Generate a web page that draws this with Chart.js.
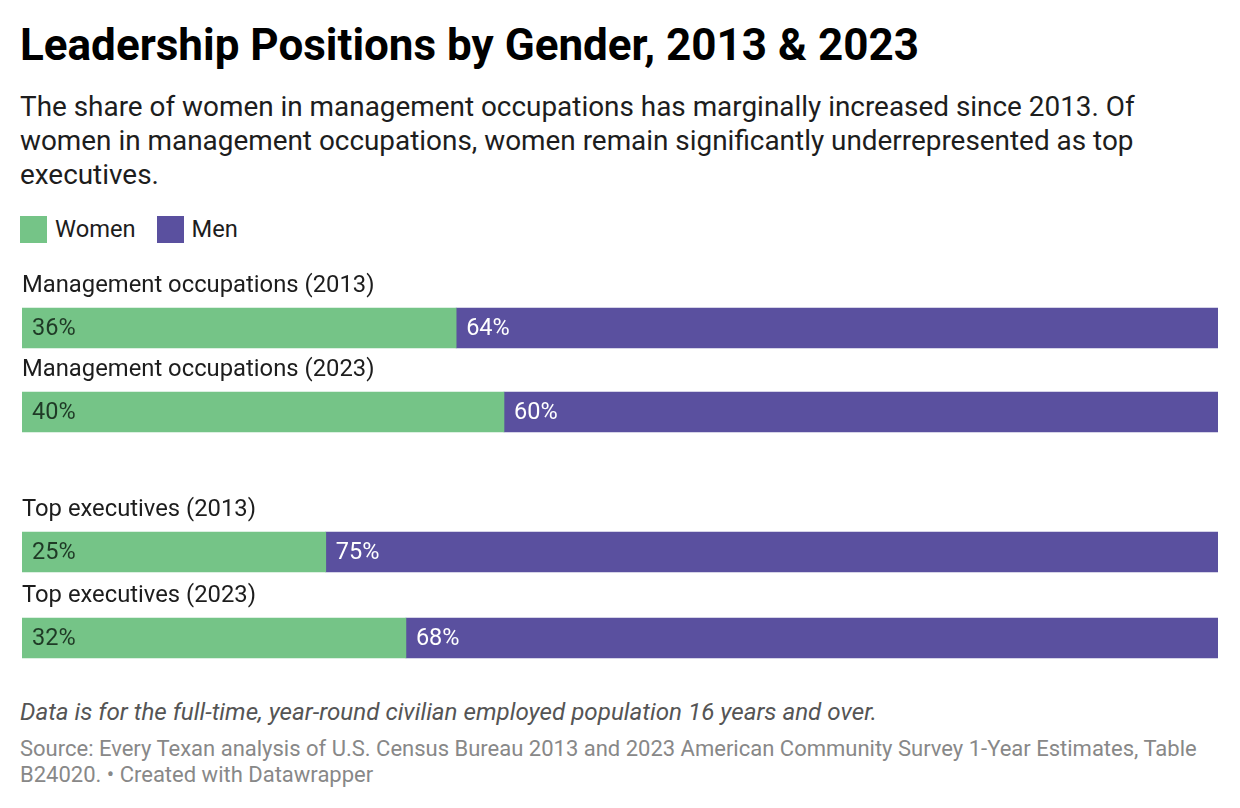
<!DOCTYPE html>
<html>

<head>
    <title>Leadership Positions by Gender</title>
    <script src="https://cdn.jsdelivr.net/npm/chart.js@4.4.1/dist/chart.umd.min.js"></script>
    <style>
        body { margin: 0; background: #fff; font-family: Roboto, sans-serif; }
        #page { position: relative; width: 1240px; height: 808px; overflow: hidden; }
        .title { position: absolute; left: 20px; top: 19px; font-size: 44px; line-height: 52px; font-weight: 700; color: #000; white-space: nowrap; }
        .subtitle { position: absolute; left: 20px; top: 90px; font-size: 27.9px; line-height: 34px; color: #1d1d1d; white-space: nowrap; }
        .legend { position: absolute; left: 20px; top: 216px; display: flex; font-size: 23.7px; line-height: 27px; color: #1d1d1d; }
        .legend span.item { display: flex; align-items: center; margin-right: 21px; }
        .legend span.sw { width: 27px; height: 27px; margin-right: 8px; display: inline-block; }
        .chart-box { position: absolute; left: 0; width: 1240px; }
        .notes { position: absolute; left: 20px; top: 697px; font-size: 24.2px; line-height: 30px; font-style: italic; color: #555; white-space: nowrap; }
        .source { position: absolute; left: 20px; top: 736px; font-size: 22px; line-height: 26px; color: #888; white-space: nowrap; }
    </style>
</head>

<body>
    <div id="page">
        <div class="title">Leadership Positions by Gender, 2013 &amp; 2023</div>
        <div class="subtitle">The share of women in management occupations has marginally increased since 2013. Of<br>women in management occupations, women remain significantly underrepresented as top<br>executives.</div>
        <div class="legend" id="legend"></div>
        <div class="chart-box" style="top:250px;height:204px"><canvas id="chartMgmt"></canvas></div>
        <div class="chart-box" style="top:476px;height:205px"><canvas id="chartExec"></canvas></div>
        <div class="notes">Data is for the full-time, year-round civilian employed population 16 years and over.</div>
        <div class="source">Source: Every Texan analysis of U.S. Census Bureau 2013 and 2023 American Community Survey 1-Year Estimates, Table<br>B24020. • Created with Datawrapper</div>
    </div>
    <script>
        const categories = ['Management occupations (2013)', 'Management occupations (2023)', 'Top executives (2013)', 'Top executives (2023)'];
        const women = [36.3, 40.3, 25.4, 32.1];
        const men = [63.7, 59.7, 74.6, 67.9];
        const seriesNames = ['Women', 'Men'];
        const seriesColors = ['#75c487', '#5a509f'];
        const labelColors = ['#1f3a26', '#ffffff'];

        // legend
        const legend = document.getElementById('legend');
        seriesNames.forEach((name, i) => {
            legend.innerHTML += `<span class="item"><span class="sw" style="background:${seriesColors[i]}"></span>${name}</span>`;
        });

        // row labels above the bars and value labels inside
        const barText = {
            id: 'barText',
            afterDatasetsDraw(chart) {
                const ctx = chart.ctx;
                ctx.save();
                ctx.font = '23.8px Roboto, sans-serif';
                ctx.textBaseline = 'middle';
                const meta0 = chart.getDatasetMeta(0);
                meta0.data.forEach((bar, i) => {
                    ctx.fillStyle = '#1d1d1d';
                    ctx.fillText(chart.data.labels[i], chart.chartArea.left, bar.y - 42);
                });
                ctx.font = '23.5px Roboto, sans-serif';
                chart.data.datasets.forEach((ds, d) => {
                    const meta = chart.getDatasetMeta(d);
                    meta.data.forEach((bar, i) => {
                        ctx.fillStyle = labelColors[d];
                        ctx.fillText(Math.round(ds.data[i]) + '%', bar.base + 10, bar.y + 1);
                    });
                });
                ctx.restore();
            }
        };

        function makeChart(id, from, to, padTop) {
            return new Chart(document.getElementById(id), {
                type: 'bar',
                data: {
                    labels: categories.slice(from, to),
                    datasets: [
                        { label: seriesNames[0], data: women.slice(from, to), backgroundColor: seriesColors[0] },
                        { label: seriesNames[1], data: men.slice(from, to), backgroundColor: seriesColors[1] }
                    ]
                },
                options: {
                    indexAxis: 'y',
                    responsive: true,
                    maintainAspectRatio: false,
                    animation: false,
                    layout: { padding: { left: 22, right: 22, top: padTop, bottom: 0 } },
                    datasets: { bar: { barThickness: 40, borderWidth: 0 } },
                    scales: {
                        x: { stacked: true, min: 0, max: 100, display: false },
                        y: { stacked: true, display: false }
                    },
                    plugins: { legend: { display: false }, tooltip: { enabled: false } }
                },
                plugins: [barText]
            });
        }

        makeChart('chartMgmt', 0, 2, 36);
        makeChart('chartExec', 2, 4, 33);
    </script>
</body>

</html>
